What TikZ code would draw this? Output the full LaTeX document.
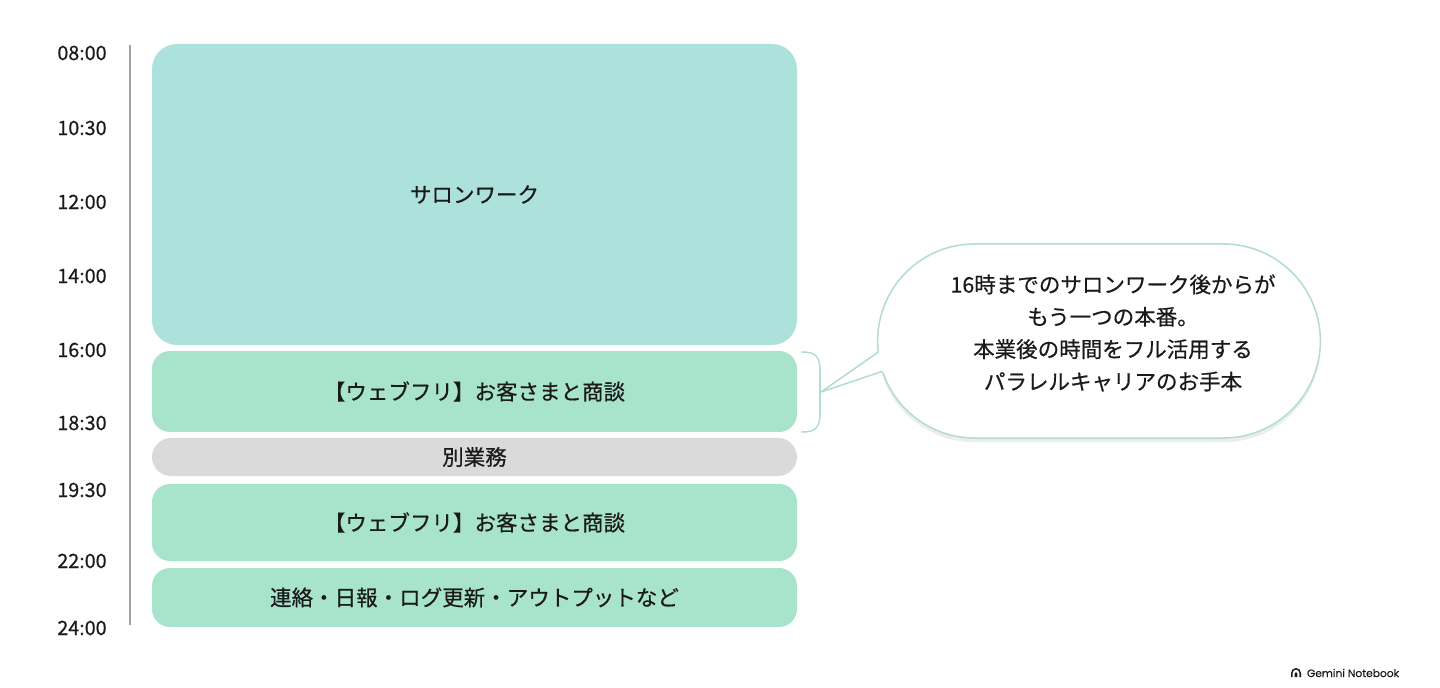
\documentclass[tikz,border=0pt]{standalone}
\usepackage{fontspec}
\setmainfont{Noto Sans CJK JP}[FakeBold=0.5]
\newfontfamily\logofont{Poppins}[FakeBold=0.4]
\usepackage{xcolor}
\usetikzlibrary{shapes.misc,shadows,positioning,calc}

\definecolor{salon}{HTML}{ADE2DC}
\definecolor{mint}{HTML}{A8E3CC}
\definecolor{other}{HTML}{DADADA}
\definecolor{edge}{HTML}{B3DDD4}
\definecolor{ink}{HTML}{1A1A1A}
\definecolor{axisgray}{HTML}{A3A3A3}

\tikzset{
    block/.style={fill=mint, draw=none, rounded corners=12.8pt},
    txt/.style={text=ink, font=\fontsize{15.3}{18}\selectfont},
    timelbl/.style={text=ink, font=\fontsize{14}{16}\selectfont},
    bubble/.style={rounded rectangle, draw=edge, line width=1.1pt, fill=white,
        minimum width=11.3cm, minimum height=4.85cm,
        drop shadow={shadow xshift=0pt, shadow yshift=-3pt, opacity=0.14}},
    brace/.style={draw=edge, line width=1.1pt, line cap=round}
}

\begin{document}
\begin{tikzpicture}[x=0.025cm, y=-0.025cm]
    \useasboundingbox (0,0) rectangle (1440,688);

    % time axis
    \draw[axisgray, line width=1pt] (130,45) coordinate (axtop) -- (130,625) coordinate (axbot);
    \foreach \lbl/\y in {08:00/53, 10:30/128, 12:00/202, 14:00/276, 16:00/350,
                         18:30/423, 19:30/490, 22:00/561, 24:00/628}
        \node[timelbl] (time\y) at (82,\y) {\lbl};

    % schedule blocks
    \draw[block, fill=salon, rounded corners=17.8pt] (152,44) rectangle (797,345)
        node[midway, txt] (salon) {サロンワーク};
    \draw[block] (152,351) rectangle (797,432) node[midway, txt] (web1) {【ウェブフリ】お客さまと商談};
    \draw[block, fill=other, rounded corners=13.5pt] (152,438) rectangle (797,476)
        node[midway, txt] (other) {別業務};
    \draw[block] (152,484) rectangle (797,561) node[midway, txt] (web2) {【ウェブフリ】お客さまと商談};
    \draw[block] (152,568) rectangle (797,627) node[midway, txt] (report) {連絡・日報・ログ更新・アウトプットなど};

    % bracket + speech bubble
    \draw[brace] (802,352) .. controls (816,352) and (820,357) .. (820,370)
        -- (820,414) .. controls (820,427) and (816,432) .. (802,432);
    \coordinate (tip) at (821,392);
    \node[bubble] (note) at (1099,341) {};
    \node[txt, align=center, font=\fontsize{15.3}{23}\selectfont] (notetext) at (1113,333)
        {16時までのサロンワーク後からが\\もう一つの本番。\\本業後の時間をフル活用する\\パラレルキャリアのお手本};
    \coordinate (tailA) at (note.183);
    \coordinate (tailB) at (note.188);
    \fill[white] (tip) -- (tailA) -- ($(tailA)+(7,0)$) -- ($(tailB)+(7,0)$) -- (tailB) -- cycle;
    \draw[brace, line join=round] (tailA) -- (tip) -- (tailB);

    % logo
    \fill[ink] (1291,677) -- (1291,673) arc(180:360:5) -- (1301,677) -- (1299.4,677)
        -- (1299.4,673) arc(360:180:3.4) -- (1292.6,677) -- cycle;
    \fill[ink] (1294.6,677) -- (1294.6,673.5) arc(180:360:1.4) -- (1297.4,677) -- cycle;
    \node[text=ink, font=\logofont\fontsize{7.6}{9}\selectfont, anchor=west] (brand) at (1302,673) {Gemini Notebook};
\end{tikzpicture}
\end{document}
